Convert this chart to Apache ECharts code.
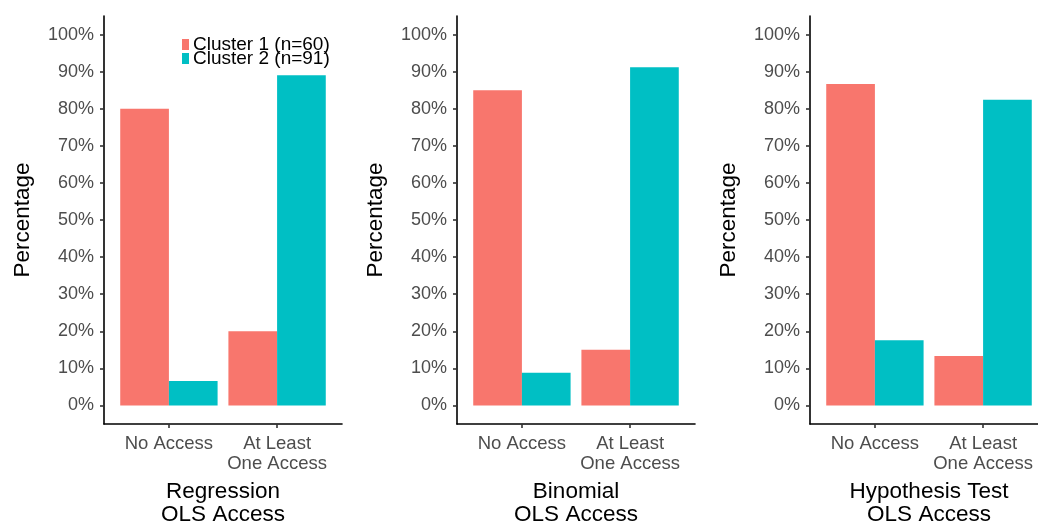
<!DOCTYPE html>
<html>
<head>
<meta charset="utf-8">
<style>
  html, body { margin: 0; padding: 0; background: #ffffff; }
  #chart { width: 1038px; height: 525px; }
</style>
<script src="https://cdn.jsdelivr.net/npm/echarts@6/dist/echarts.min.js"></script>
</head>
<body>
<div id="chart"></div>
<script>
// Share of respondents per access level, by cluster, for three OLS-access measures
const categories = ['No Access', 'At Least\nOne Access'];
const panelTitles = ['Regression\nOLS Access', 'Binomial\nOLS Access', 'Hypothesis Test\nOLS Access'];
const seriesNames = ['Cluster 1 (n=60)', 'Cluster 2 (n=91)'];

const cluster1Regression = [80.0, 20.0];
const cluster2Regression = [6.6, 89.0];
const cluster1Binomial = [85.0, 15.0];
const cluster2Binomial = [8.8, 91.2];
const cluster1Hypothesis = [86.7, 13.3];
const cluster2Hypothesis = [17.6, 82.4];

const yTicks = [0, 10, 20, 30, 40, 50, 60, 70, 80, 90, 100];

const panels = [
  [cluster1Regression, cluster2Regression],
  [cluster1Binomial, cluster2Binomial],
  [cluster1Hypothesis, cluster2Hypothesis]
];

const colors = ['#F8766D', '#00BFC4'];
const FONT = 'Liberation Sans, Arial, Helvetica, sans-serif';
const panelLefts = [104, 457, 810];
const categoryPositions = categories.map((c, i) => i + 1);

const grids = [], xAxes = [], yAxes = [], series = [];

panels.forEach((pair, p) => {
  grids.push({
    left: panelLefts[p], top: 16, width: 238, height: 408,
    containLabel: false,
    outerBoundsMode: 'none'
  });

  xAxes.push({
    type: 'value',
    gridIndex: p,
    min: 0.4,
    max: 2.6,
    splitLine: { show: false },
    axisLine: { show: true, onZero: false, lineStyle: { color: '#000000', width: 1.6 } },
    axisTick: { show: true, customValues: categoryPositions, length: 4, lineStyle: { color: '#333333', width: 1.6 } },
    axisLabel: {
      customValues: categoryPositions,
      formatter: v => categories[Math.round(v) - 1] || '',
      color: '#4D4D4D',
      fontFamily: FONT,
      fontSize: 18.5,
      lineHeight: 20,
      margin: 10
    },
    name: panelTitles[p],
    nameLocation: 'middle',
    nameGap: 56,
    nameTextStyle: { color: '#000000', fontFamily: FONT, fontSize: 22.5, lineHeight: 23 }
  });

  yAxes.push({
    type: 'value',
    gridIndex: p,
    min: -5,
    max: 105,
    splitLine: { show: false },
    axisLine: { show: true, onZero: false, lineStyle: { color: '#000000', width: 1.6 } },
    axisTick: { show: true, customValues: yTicks, length: 4, lineStyle: { color: '#333333', width: 1.6 } },
    axisLabel: {
      customValues: yTicks,
      formatter: v => v + '%',
      color: '#4D4D4D',
      fontFamily: FONT,
      fontSize: 18,
      margin: 10
    },
    name: 'Percentage',
    nameLocation: 'middle',
    nameGap: 70,
    nameTextStyle: { color: '#000000', fontFamily: FONT, fontSize: 22.5 }
  });

  pair.forEach((values, s) => {
    series.push({
      type: 'bar',
      name: seriesNames[s],
      xAxisIndex: p,
      yAxisIndex: p,
      barWidth: '45%',
      barGap: '0%',
      itemStyle: { color: colors[s] },
      data: values.map((v, i) => [categoryPositions[i], v])
    });
  });
});

const chart = echarts.init(document.getElementById('chart'), null, { renderer: 'canvas' });
chart.setOption({
  animation: false,
  backgroundColor: '#ffffff',
  color: colors,
  legend: {
    data: seriesNames,
    orient: 'vertical',
    left: 182,
    top: 35,
    icon: 'rect',
    itemWidth: 7,
    itemHeight: 11,
    itemGap: -5,
    padding: 0,
    textStyle: { color: '#000000', fontFamily: FONT, fontSize: 19, padding: [0, 0, 0, -1] }
  },
  grid: grids,
  xAxis: xAxes,
  yAxis: yAxes,
  series: series
});
</script>
</body>
</html>
